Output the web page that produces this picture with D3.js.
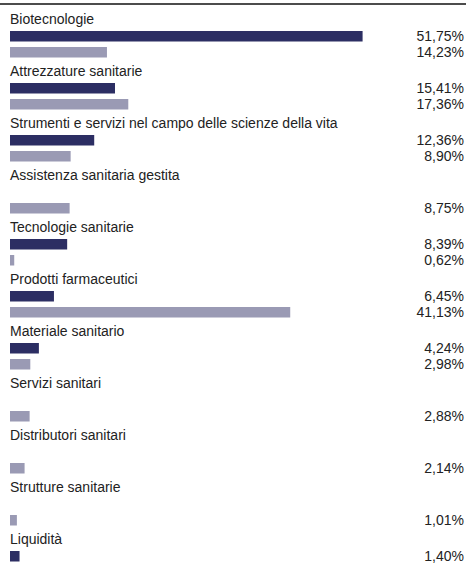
<!DOCTYPE html>
<html>
<head>
<meta charset="utf-8">
<script src="https://cdn.jsdelivr.net/npm/d3@7"></script>
<style>
  body { margin: 0; background: #fff; }
  text { font-family: "Liberation Sans", Arial, sans-serif; font-size: 14px; fill: #222; }
</style>
</head>
<body>
<div id="chart"></div>
<script>
const categories = [
  "Biotecnologie",
  "Attrezzature sanitarie",
  "Strumenti e servizi nel campo delle scienze della vita",
  "Assistenza sanitaria gestita",
  "Tecnologie sanitarie",
  "Prodotti farmaceutici",
  "Materiale sanitario",
  "Servizi sanitari",
  "Distributori sanitari",
  "Strutture sanitarie",
  "Liquidità",
];
const series = ["fondo", "indice"];
const fondoValues = [51.75, 15.41, 12.36, null, 8.39, 6.45, 4.24, null, null, null, 1.4];
const indiceValues = [14.23, 17.36, 8.9, 8.75, 0.62, 41.13, 2.98, 2.88, 2.14, 1.01, null];

const width = 466;
const height = 564;
const colors = { fondo: "#2c2e63", indice: "#9a9ab4" };

const itLocale = d3.formatLocale({
  decimal: ",",
  thousands: ".",
  grouping: [3],
  currency: ["", " €"],
});
const fmt = (v) => itLocale.format(".2f")(v) + "%";

const svg = d3
  .select("#chart")
  .append("svg")
  .attr("width", width)
  .attr("height", height);

// rule on top
svg
  .append("line")
  .attr("x1", 0)
  .attr("x2", width)
  .attr("y1", 4)
  .attr("y2", 4)
  .style("stroke", "#111")
  .style("stroke-width", 1.3);

const x = d3.scaleLinear().domain([0, 60]).range([10, 418.8]);

const y = d3
  .scaleBand()
  .domain(categories)
  .range([14, 14 + 52 * categories.length]);

// bars inside each category block
const inner = d3
  .scaleBand()
  .domain(series)
  .range([17, 49])
  .paddingInner(5.5 / 16)
  .paddingOuter(5.5 / 32)
  .align(0);

const rows = categories.map((name, i) => ({
  name,
  values: [
    { key: "fondo", value: fondoValues[i] },
    { key: "indice", value: indiceValues[i] },
  ].filter((d) => d.value != null),
}));

const groups = svg
  .selectAll(".row")
  .data(rows)
  .enter()
  .append("g")
  .attr("class", "row")
  .attr("transform", (d) => `translate(0,${y(d.name)})`);

groups
  .append("text")
  .attr("x", 10)
  .attr("y", 10.2)
  .text((d) => d.name);

groups
  .selectAll("rect")
  .data((d) => d.values)
  .enter()
  .append("rect")
  .attr("x", x(0))
  .attr("y", (d) => inner(d.key))
  .attr("width", (d) => x(d.value) - x(0))
  .attr("height", inner.bandwidth())
  .style("fill", (d) => colors[d.key]);

groups
  .selectAll(".value")
  .data((d) => d.values)
  .enter()
  .append("text")
  .attr("class", "value")
  .attr("x", 464)
  .attr("y", (d) => inner(d.key) + inner.bandwidth() - 0.2)
  .attr("text-anchor", "end")
  .text((d) => fmt(d.value));
</script>
</body>
</html>
